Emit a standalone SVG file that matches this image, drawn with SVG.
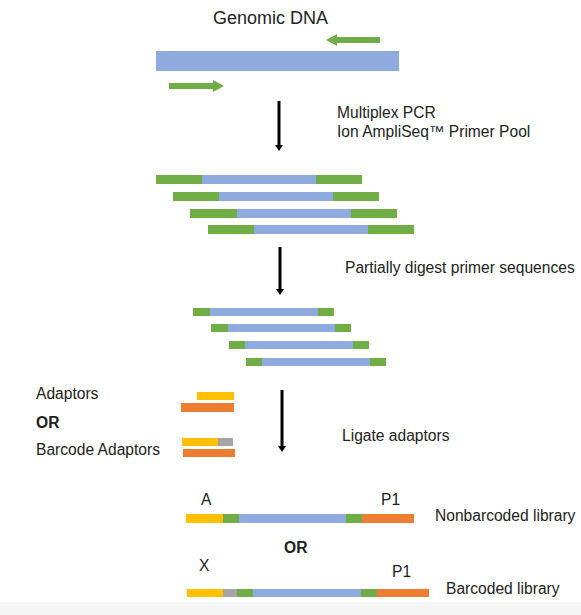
<svg xmlns="http://www.w3.org/2000/svg" width="581" height="615" viewBox="0 0 581 615">
<style>
text{font-family:"Liberation Sans",Arial,sans-serif;font-size:15.6px;fill:#222}
.t{font-size:18px}
.b{font-weight:bold}
.bl{fill:#8faadc}.gr{fill:#70ad47}.ye{fill:#ffc000}.or{fill:#ed7d31}.gy{fill:#a5a5a5}
.ar{stroke:#000;stroke-width:3;fill:none}
</style>
<defs>
<marker id="ah" viewBox="0 0 6 8" refX="1" refY="4" markerWidth="6" markerHeight="8" markerUnits="userSpaceOnUse" orient="auto">
<path d="M0,0 L6,4 L0,8 Z" fill="#000"/>
</marker>
</defs>
<rect width="581" height="615" fill="#fff"/>
<rect x="0" y="602" width="581" height="13" fill="#f5f5f5"/>

<g id="genomic">
<text class="t" x="213" y="24">Genomic DNA</text>
<rect class="bl" x="156" y="51" width="243" height="20"/>
<path class="gr" d="M380,37 L337,37 L337,34 L326,40 L337,46 L337,43 L380,43 Z"/>
<path class="gr" d="M169,83 L213,83 L213,80 L224,86 L213,92 L213,89 L169,89 Z"/>
</g>

<g id="amplicons">
<rect class="gr" x="156" y="175" width="206" height="9"/><rect class="bl" x="202" y="175" width="114" height="9"/>
<rect class="gr" x="173" y="192" width="206" height="9"/><rect class="bl" x="219" y="192" width="114" height="9"/>
<rect class="gr" x="190" y="209" width="207" height="9"/><rect class="bl" x="237" y="209" width="114" height="9"/>
<rect class="gr" x="208" y="225" width="206" height="9"/><rect class="bl" x="254" y="225" width="114" height="9"/>
</g>

<g id="digested">
<rect class="gr" x="193" y="308" width="141" height="8"/><rect class="bl" x="210" y="308" width="108" height="8"/>
<rect class="gr" x="211" y="324" width="140" height="8"/><rect class="bl" x="228" y="324" width="107" height="8"/>
<rect class="gr" x="229" y="341" width="140" height="8"/><rect class="bl" x="245" y="341" width="108" height="8"/>
<rect class="gr" x="246" y="358" width="140" height="8"/><rect class="bl" x="262" y="358" width="108" height="8"/>
</g>

<g id="adaptors">
<text x="36" y="399">Adaptors</text>
<rect class="ye" x="197" y="392" width="37" height="8"/>
<rect class="or" x="181" y="403" width="53" height="9"/>
<text class="b" x="36" y="428">OR</text>
<text x="36" y="455">Barcode Adaptors</text>
<rect class="ye" x="182" y="438" width="36" height="8"/>
<rect class="gy" x="218" y="438" width="15" height="8"/>
<rect class="or" x="183" y="449" width="52" height="8"/>
</g>

<g id="nonbarcoded">
<text x="201" y="505">A</text>
<text x="381" y="505">P1</text>
<rect class="ye" x="186" y="514" width="37" height="9"/>
<rect class="gr" x="223" y="514" width="16" height="9"/>
<rect class="bl" x="239" y="514" width="107" height="9"/>
<rect class="gr" x="346" y="514" width="16" height="9"/>
<rect class="or" x="362" y="514" width="52" height="9"/>
<text x="435" y="521">Nonbarcoded library</text>
</g>

<text class="b" x="284" y="553">OR</text>

<g id="barcoded">
<text x="199" y="571">X</text>
<text x="392" y="577">P1</text>
<rect class="ye" x="187" y="589" width="36" height="8"/>
<rect class="gy" x="223" y="589" width="14" height="8"/>
<rect class="gr" x="237" y="589" width="16" height="8"/>
<rect class="bl" x="253" y="589" width="108" height="8"/>
<rect class="gr" x="361" y="589" width="16" height="8"/>
<rect class="or" x="377" y="589" width="52" height="8"/>
<text x="446" y="594">Barcoded library</text>
</g>

<g id="steps">
<text x="337" y="118">Multiplex PCR</text>
<text x="337" y="137">Ion AmpliSeq™ Primer Pool</text>
<text x="345" y="273">Partially digest primer sequences</text>
<text x="342" y="441">Ligate adaptors</text>
</g>

<g id="connectors">
<line class="ar" x1="279" y1="101" x2="279" y2="146" marker-end="url(#ah)"/>
<line class="ar" x1="280" y1="247" x2="280" y2="290" marker-end="url(#ah)"/>
<line class="ar" x1="282" y1="390" x2="282" y2="447" marker-end="url(#ah)"/>
</g>
</svg>
